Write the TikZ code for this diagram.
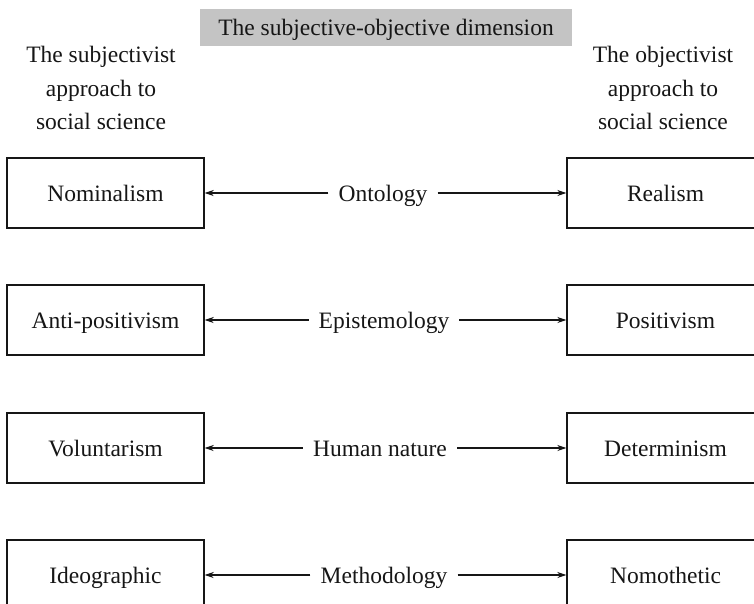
\documentclass[tikz,border=0pt]{standalone}
\usepackage{fontspec}
\setmainfont{Liberation Serif}
\usetikzlibrary{arrows.meta}
\definecolor{titlegray}{HTML}{C4C4C4}
\definecolor{ink}{HTML}{161616}
\begin{document}
\begin{tikzpicture}[x=1pt,y=-1pt,
  every node/.style={font=\fontsize{23.5}{33.5}\selectfont, text=ink},
  box/.style={draw=ink, line width=1.4pt, minimum width=197pt, minimum height=70pt, inner sep=0pt, text height=19pt, text depth=2pt},
  dimlabel/.style={inner xsep=10pt, inner ysep=0pt, text height=19pt, text depth=2pt},
  heading/.style={align=center, inner sep=0pt},
  conn/.style={draw=ink, line width=1.1pt, -{Stealth[length=9pt,width=6pt]}}
]
\clip (0,0) rectangle (754,603);
\fill[white] (0,0) rectangle (754,603);

\node[fill=titlegray, minimum width=372pt, minimum height=37pt, inner sep=0pt, text height=18pt, text depth=3pt] (title) at (386,27.5) {The subjective-objective dimension};

\node[heading] (lhead) at (101,88) {The subjectivist\\approach to\\social science};
\node[heading] (rhead) at (663,88) {The objectivist\\approach to\\social science};

% rows
\node[box] (l1) at (105.5,193) {Nominalism};
\node[box] (r1) at (665.5,193) {Realism};
\node[dimlabel] (m1) at (383,193) {Ontology};

\node[box] (l2) at (105.5,320) {Anti-positivism};
\node[box] (r2) at (665.5,320) {Positivism};
\node[dimlabel] (m2) at (384,320) {Epistemology};

\node[box] (l3) at (105.5,448) {Voluntarism};
\node[box] (r3) at (665.5,448) {Determinism};
\node[dimlabel] (m3) at (380,448) {Human nature};

\node[box] (l4) at (105.5,575) {Ideographic};
\node[box] (r4) at (665.5,575) {Nomothetic};
\node[dimlabel] (m4) at (384,575) {Methodology};

\foreach \i in {1,2,3,4}{
  \draw[conn] (m\i.west |- l\i.east) -- (l\i.east);
  \draw[conn] (m\i.east |- r\i.west) -- (r\i.west);
}
\end{tikzpicture}
\end{document}
